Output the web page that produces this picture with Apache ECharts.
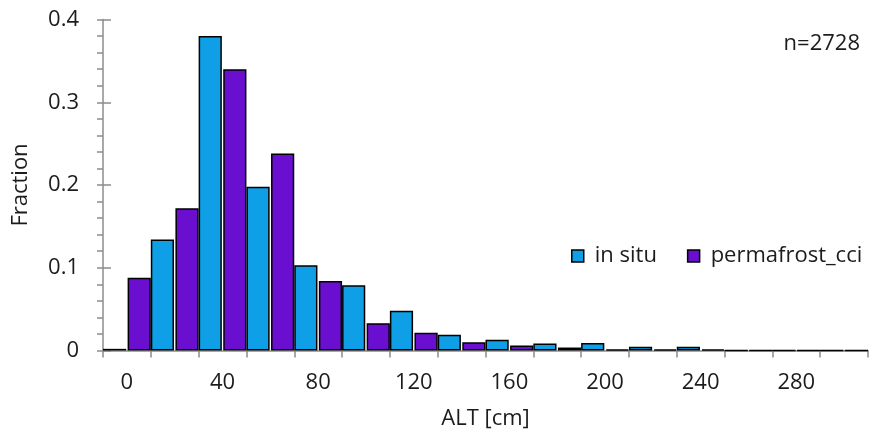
<!DOCTYPE html>
<html>
<head>
<meta charset="utf-8">
<script src="https://cdn.jsdelivr.net/npm/echarts@6/dist/echarts.min.js"></script>
<style>
  html, body { margin: 0; padding: 0; background: #fff; }
  #chart { width: 879px; height: 443px; }
</style>
</head>
<body>
<div id="chart"></div>
<script>
// ALT bins (cm), 20 cm wide
const bins = ['0', '20', '40', '60', '80', '100', '120', '140', '160', '180',
              '200', '220', '240', '260', '280', '300'];
// fraction of sites per bin
const inSitu = [0.002, 0.134, 0.380, 0.198, 0.103, 0.079, 0.048, 0.019,
                0.013, 0.0085, 0.009, 0.0045, 0.0045, 0, 0, 0];
const permafrostCci = [0.088, 0.172, 0.340, 0.238, 0.084, 0.033, 0.0215, 0.010,
                       0.006, 0.0036, 0.0012, 0.0015, 0.0015, 0, 0, 0];
const yTicks = [0, 0.1, 0.2, 0.3, 0.4];
const sampleSize = 'n=2728';

const FONT = '"Open Sans"';
const FS = 22;
const TXT = '#1c1c1c';
const AXIS = '#8c8c8c';
const BLUE = '#0e9fe6';
const PURPLE = '#6a0fd0';

const chart = echarts.init(document.getElementById('chart'), null, { renderer: 'canvas' });

const barStyle = (color) => ({
  color: color,
  borderColor: '#000',
  borderWidth: 1.5
});

chart.setOption({
  animation: false,
  textStyle: { fontFamily: FONT, color: TXT },
  grid: { left: 103, right: 11, top: 19.5, bottom: 92.5, containLabel: false },
  title: {
    text: sampleSize,
    right: 19,
    top: 33,
    padding: 0,
    textStyle: { fontFamily: FONT, fontSize: FS, fontWeight: 'normal', color: TXT }
  },
  legend: {
    left: 571,
    top: 245,
    padding: 0,
    itemWidth: 12,
    itemHeight: 12,
    itemGap: 30,
    icon: 'rect',
    textStyle: { fontFamily: FONT, fontSize: FS, color: TXT, padding: [0, 0, 0, 6] },
    data: [
      { name: 'in situ', itemStyle: { color: BLUE, borderColor: '#000', borderWidth: 1.5 } },
      { name: 'permafrost_cci', itemStyle: { color: PURPLE, borderColor: '#000', borderWidth: 1.5 } }
    ]
  },
  xAxis: {
    type: 'category',
    data: bins,
    name: 'ALT [cm]',
    nameLocation: 'middle',
    nameGap: 57,
    nameTextStyle: { fontFamily: FONT, fontSize: FS, color: TXT },
    axisLine: { lineStyle: { color: AXIS, width: 1.5 } },
    axisTick: { show: true, interval: 0, length: 7, alignWithLabel: false, lineStyle: { color: AXIS, width: 1.5 } },
    axisLabel: { interval: 1, margin: 21, fontFamily: FONT, fontSize: FS, color: TXT },
    splitLine: { show: false }
  },
  yAxis: [
    {
      type: 'value',
      min: 0,
      max: 0.4,
      interval: 0.1,
      name: 'Fraction',
      nameLocation: 'middle',
      nameGap: 71,
      nameTextStyle: { fontFamily: FONT, fontSize: FS, color: TXT },
      axisLine: { show: true, lineStyle: { color: AXIS, width: 1.5 } },
      axisTick: { show: true, length: 6, lineStyle: { color: AXIS, width: 1.5 } },
      minorTick: { show: true, splitNumber: 5, length: 6, lineStyle: { color: AXIS, width: 1.5 } },
      axisLabel: {
        margin: 24, fontFamily: FONT, fontSize: FS, color: TXT,
        formatter: (v) => (yTicks.indexOf(Math.round(v * 10) / 10) >= 0 ? String(Math.round(v * 10) / 10) : '')
      },
      splitLine: { show: false }
    },
    {
      // inner half of the major tick marks
      type: 'value',
      min: 0,
      max: 0.4,
      interval: 0.1,
      position: 'left',
      axisLine: { show: false },
      axisTick: { show: true, inside: true, length: 8, lineStyle: { color: AXIS, width: 1.5 } },
      axisLabel: { show: false },
      splitLine: { show: false }
    }
  ],
  series: [
    {
      name: 'in situ',
      type: 'bar',
      data: inSitu,
      barGap: '6%',
      barCategoryGap: '0%',
      itemStyle: barStyle(BLUE)
    },
    {
      name: 'permafrost_cci',
      type: 'bar',
      data: permafrostCci,
      barGap: '6%',
      barCategoryGap: '0%',
      itemStyle: barStyle(PURPLE)
    }
  ]
});
</script>
</body>
</html>
